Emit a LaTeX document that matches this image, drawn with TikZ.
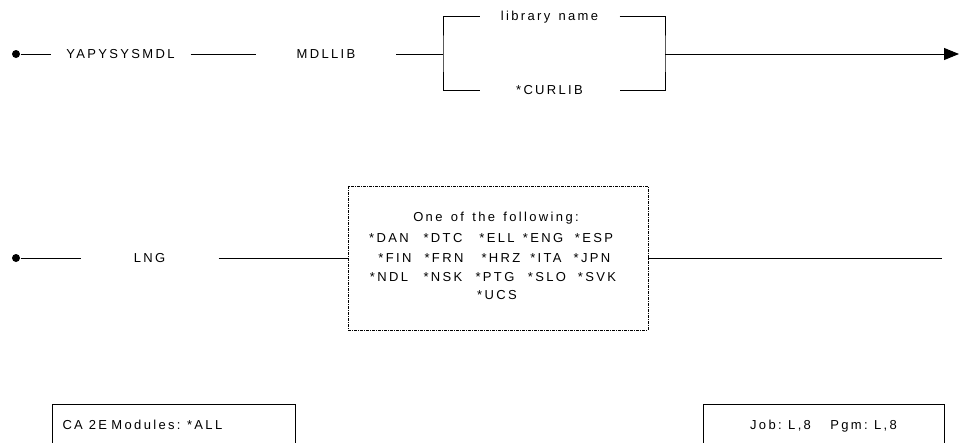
\documentclass[tikz,border=0pt]{standalone}
\usepackage{fontspec}
\setmainfont{Liberation Sans}[LetterSpace=18, WordSpace=1.4]
\usetikzlibrary{arrows.meta, positioning, calc}

\begin{document}
\begin{tikzpicture}[x=1pt, y=-1pt, line width=1pt,
    font=\fontsize{13}{19}\selectfont,
    kw/.style={inner sep=0pt, text height=9.3pt, text depth=0pt, minimum width=139pt},
    lang/.style={inner sep=0pt, text height=9.3pt, text depth=0pt},
    startdot/.style={circle, fill, inner sep=0pt, minimum size=8pt},
    optbox/.style={draw, line width=0.8pt, dash pattern=on 3pt off 1pt on 1pt off 1pt,
      minimum width=300pt, minimum height=144pt},
    footbox/.style={draw, line width=1pt, inner xsep=10.5pt, inner ysep=0pt,
      text height=9.3pt, text depth=0pt, minimum height=41pt}]
  \useasboundingbox (0,0) rectangle (961,442);

  % parameter MDLLIB
  \node[startdot] (start) at (16,54) {};
  \node[kw] (sysmdl) at (120.5,54) {YAPYSYSMDL};
  \node[kw] (mdllib) at (326,54) {MDLLIB};
  \node[kw] (libname) at (549.5,16) {library name};
  \node[kw] (curlib) at (549.5,90) {*CURLIB};
  \coordinate (forkL) at (443,54);
  \coordinate (forkR) at (665,54);
  \coordinate (stop) at (959,54);
  \draw (start) -- (sysmdl) -- (mdllib) -- (forkL);
  \draw (libname.west) -| (forkL) |- (curlib.west);
  \draw (libname.east) -| (forkR) |- (curlib.east);
  \draw[-{Triangle[length=15pt,width=12pt]}] (forkR) -- (stop);

  % parameter LNG
  \node[startdot] (lngstart) at (16,258) {};
  \node[kw, minimum width=137pt] (lng) at (149.5,258) {LNG};
  \node[optbox] (langs) at (498,258) {};
  \coordinate (lngend) at (942,258);
  \draw (lngstart) -- (lng) -- (langs);
  \draw (langs) -- (lngend);
  \node[lang] (head) at (496,217) {One of the following:};
  \foreach \code/\x/\y in {DAN/389/238, DTC/443/238, ELL/497/238, ENG/543/238, ESP/594/238,
      FIN/395/258, FRN/444/258, HRZ/501/258, ITA/546/258, JPN/592/258,
      NDL/389/277, NSK/443/277, PTG/495/277, SLO/547/277, SVK/597/277,
      UCS/497/295}
    \node[lang] (lang-\code) at (\x,\y) {*\code};

  % footer
  \node[footbox, text width=222pt, align=left] (modules) at (173.5,424.5) {CA\hspace{6pt}2E Modules: *ALL};
  \node[footbox, text width=220pt, align=center] (jobpgm) at (823.5,424.5) {Job: L,8\hspace{15pt} Pgm: L,8};
\end{tikzpicture}
\end{document}
